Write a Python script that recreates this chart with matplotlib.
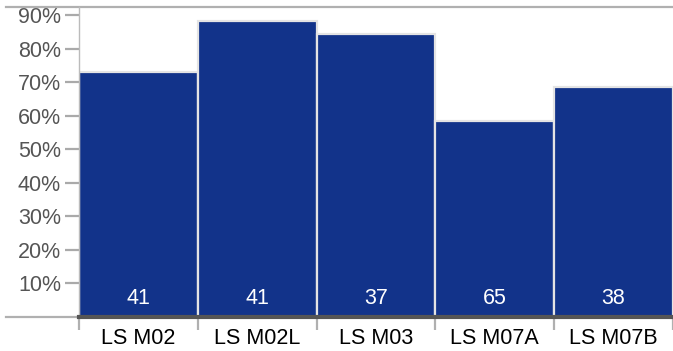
import matplotlib
matplotlib.use("Agg")
import matplotlib.pyplot as plt
import numpy as np

# share of cases per line, with the count of cases printed inside each bar
categories = ["LS M02", "LS M02L", "LS M03", "LS M07A", "LS M07B"]
shares = [0.73, 0.882, 0.842, 0.584, 0.684]
counts = [41, 41, 37, 65, 38]
yticks = [0.1, 0.2, 0.3, 0.4, 0.5, 0.6, 0.7, 0.8, 0.9]
ytick_labels = ["10%", "20%", "30%", "40%", "50%", "60%", "70%", "80%", "90%"]

BAR = "#12338a"
plt.rcParams["font.family"] = ["Liberation Sans", "DejaVu Sans"]

fig = plt.figure(figsize=(6.73, 3.51), dpi=100)
W, H = 673, 351
left, right, top, bottom = 79, 673, 7, 316.5
ax = fig.add_axes([left / W, (H - bottom) / H, (right - left) / W, (bottom - top) / H])

x = np.arange(len(categories))
ax.bar(x, shares, width=1.0, color=BAR, edgecolor="#e4e4e4", linewidth=1.6, zorder=2)
for xi, n in zip(x, counts):
    ax.text(xi, 0.055, str(n), ha="center", va="center", color="white", fontsize=15.5, zorder=3)

ax.set_xlim(-0.5, len(categories) - 0.5)
ax.set_ylim(0, 0.924)

ax.set_yticks(yticks)
ax.set_yticklabels(ytick_labels)
ax.tick_params(axis="y", length=10, width=1.6, color="#aaaaaa", labelcolor="#555555",
               labelsize=15.5, pad=3)

# category labels sit between the boundary ticks
ax.set_xticks(np.arange(len(categories) + 1) - 0.5)
ax.set_xticklabels([])
ax.set_xticks(x, minor=True)
ax.set_xticklabels(categories, minor=True)
ax.tick_params(axis="x", which="major", length=9, width=1.6, color="#b0b0b0", direction="out")
ax.tick_params(axis="x", which="minor", length=0, labelsize=15.5, labelcolor="black", pad=8)

for s in ["top", "right"]:
    ax.spines[s].set_visible(False)
ax.spines["left"].set_color("#bbbbbb")
ax.spines["left"].set_linewidth(1.0)
ax.spines["bottom"].set_color("#555555")
ax.spines["bottom"].set_linewidth(3)

# thin gray rules extending to the left margin
ext = -(left - 6) / (right - left)
ax.plot([ext, 1], [1, 1], transform=ax.transAxes, color="#b0b0b0", lw=1.6, clip_on=False)
ax.plot([ext, 0], [0, 0], transform=ax.transAxes, color="#b0b0b0", lw=1.6, clip_on=False)

fig.savefig("out.png", dpi=100)
